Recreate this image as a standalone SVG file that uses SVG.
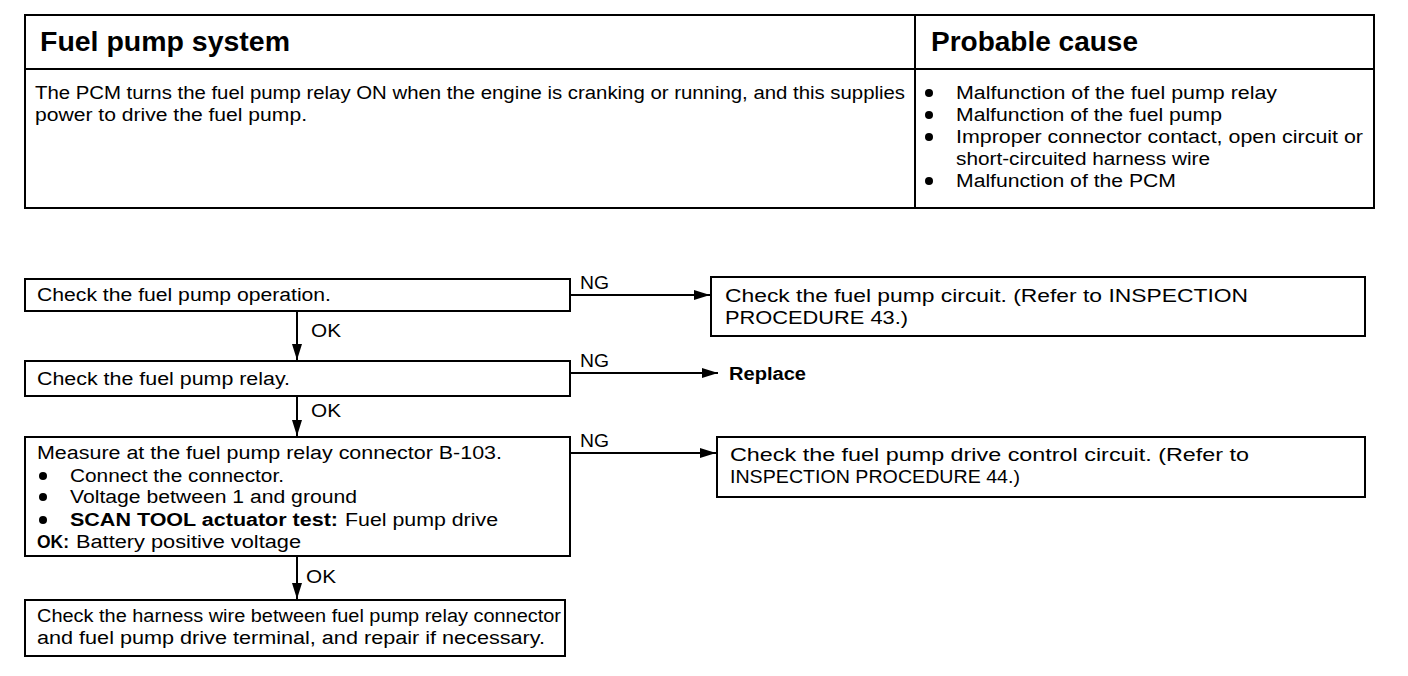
<svg xmlns="http://www.w3.org/2000/svg" width="1408" height="676" viewBox="0 0 1408 676">
<style>
.b{fill:none;stroke:#000;stroke-width:2}
.t{font-family:"Liberation Sans",Arial,sans-serif;font-size:18px;fill:#000}
.h{font-family:"Liberation Sans",Arial,sans-serif;font-size:27px;font-weight:bold;fill:#000}
.bd{font-weight:bold}
.c{stroke:#000;stroke-width:2;fill:none}
</style>
<defs>
<marker id="ah" markerUnits="userSpaceOnUse" markerWidth="18" markerHeight="12" refX="16" refY="6" orient="auto">
<path d="M0,1 L16,6 L0,11 z" fill="#000"/>
</marker>
</defs>
<rect width="1408" height="676" fill="#fff"/>

<g id="table">
<rect class="b" x="25" y="15" width="1349" height="193"/>
<line class="b" x1="25" y1="69" x2="1374" y2="69"/>
<line class="b" x1="915" y1="15" x2="915" y2="208"/>
<text class="h" x="40" y="51" textLength="250" lengthAdjust="spacingAndGlyphs">Fuel pump system</text>
<text class="h" x="931" y="51" textLength="207" lengthAdjust="spacingAndGlyphs">Probable cause</text>
<text class="t" x="35" y="99" textLength="870" lengthAdjust="spacingAndGlyphs">The PCM turns the fuel pump relay ON when the engine is cranking or running, and this supplies</text>
<text class="t" x="35" y="121" textLength="272" lengthAdjust="spacingAndGlyphs">power to drive the fuel pump.</text>
<circle cx="929" cy="93" r="4"/>
<circle cx="929" cy="115" r="4"/>
<circle cx="929" cy="137" r="4"/>
<circle cx="929" cy="181" r="4"/>
<text class="t" x="956" y="99" textLength="321" lengthAdjust="spacingAndGlyphs">Malfunction of the fuel pump relay</text>
<text class="t" x="956" y="121" textLength="266" lengthAdjust="spacingAndGlyphs">Malfunction of the fuel pump</text>
<text class="t" x="956" y="143" textLength="407" lengthAdjust="spacingAndGlyphs">Improper connector contact, open circuit or</text>
<text class="t" x="956" y="165" textLength="254" lengthAdjust="spacingAndGlyphs">short-circuited harness wire</text>
<text class="t" x="956" y="187" textLength="220" lengthAdjust="spacingAndGlyphs">Malfunction of the PCM</text>
</g>

<g id="n1">
<rect class="b" x="25" y="279" width="545" height="32"/>
<text class="t" x="37" y="301" textLength="294" lengthAdjust="spacingAndGlyphs">Check the fuel pump operation.</text>
</g>
<g id="n1ng">
<rect class="b" x="711" y="277" width="654" height="59"/>
<text class="t" x="725" y="302" textLength="523" lengthAdjust="spacingAndGlyphs">Check the fuel pump circuit. (Refer to INSPECTION</text>
<text class="t" x="725" y="324" textLength="183" lengthAdjust="spacingAndGlyphs">PROCEDURE 43.)</text>
</g>
<g id="n2">
<rect class="b" x="25" y="361" width="545" height="35"/>
<text class="t" x="37" y="385" textLength="253" lengthAdjust="spacingAndGlyphs">Check the fuel pump relay.</text>
</g>
<g id="n2ng">
<text class="t bd" x="729" y="380" textLength="77" lengthAdjust="spacingAndGlyphs">Replace</text>
</g>
<g id="n3">
<rect class="b" x="25" y="437" width="545" height="119"/>
<text class="t" x="37" y="459" textLength="465" lengthAdjust="spacingAndGlyphs">Measure at the fuel pump relay connector B-103.</text>
<circle cx="43" cy="476" r="4"/>
<circle cx="43" cy="497" r="4"/>
<circle cx="43" cy="520" r="4"/>
<text class="t" x="70" y="482" textLength="214" lengthAdjust="spacingAndGlyphs">Connect the connector.</text>
<text class="t" x="70" y="503" textLength="287" lengthAdjust="spacingAndGlyphs">Voltage between 1 and ground</text>
<text class="t bd" x="70" y="526" textLength="268" lengthAdjust="spacingAndGlyphs">SCAN TOOL actuator test:</text>
<text class="t" x="345" y="526" textLength="153" lengthAdjust="spacingAndGlyphs">Fuel pump drive</text>
<text class="t bd" x="37" y="548" textLength="32" lengthAdjust="spacingAndGlyphs">OK:</text>
<text class="t" x="76" y="548" textLength="225" lengthAdjust="spacingAndGlyphs">Battery positive voltage</text>
</g>
<g id="n3ng">
<rect class="b" x="717" y="437" width="648" height="60"/>
<text class="t" x="730" y="461" textLength="519" lengthAdjust="spacingAndGlyphs">Check the fuel pump drive control circuit. (Refer to</text>
<text class="t" x="730" y="483" textLength="290" lengthAdjust="spacingAndGlyphs">INSPECTION PROCEDURE 44.)</text>
</g>
<g id="n4">
<rect class="b" x="25" y="600" width="540" height="56"/>
<text class="t" x="37" y="622" textLength="524" lengthAdjust="spacingAndGlyphs">Check the harness wire between fuel pump relay connector</text>
<text class="t" x="37" y="644" textLength="508" lengthAdjust="spacingAndGlyphs">and fuel pump drive terminal, and repair if necessary.</text>
</g>

<g id="connectors">
<line class="c" x1="570" y1="295" x2="710" y2="295" marker-end="url(#ah)"/>
<line class="c" x1="570" y1="373" x2="718" y2="373" marker-end="url(#ah)"/>
<line class="c" x1="570" y1="453" x2="716" y2="453" marker-end="url(#ah)"/>
<line class="c" x1="297" y1="311" x2="297" y2="360" marker-end="url(#ah)"/>
<line class="c" x1="297" y1="396" x2="297" y2="436" marker-end="url(#ah)"/>
<line class="c" x1="297" y1="556" x2="297" y2="599" marker-end="url(#ah)"/>
<text class="t" x="580" y="289" textLength="29" lengthAdjust="spacingAndGlyphs">NG</text>
<text class="t" x="580" y="367" textLength="29" lengthAdjust="spacingAndGlyphs">NG</text>
<text class="t" x="580" y="447" textLength="29" lengthAdjust="spacingAndGlyphs">NG</text>
<text class="t" x="311" y="337" textLength="30" lengthAdjust="spacingAndGlyphs">OK</text>
<text class="t" x="311" y="417" textLength="30" lengthAdjust="spacingAndGlyphs">OK</text>
<text class="t" x="306" y="583" textLength="30" lengthAdjust="spacingAndGlyphs">OK</text>
</g>
</svg>
